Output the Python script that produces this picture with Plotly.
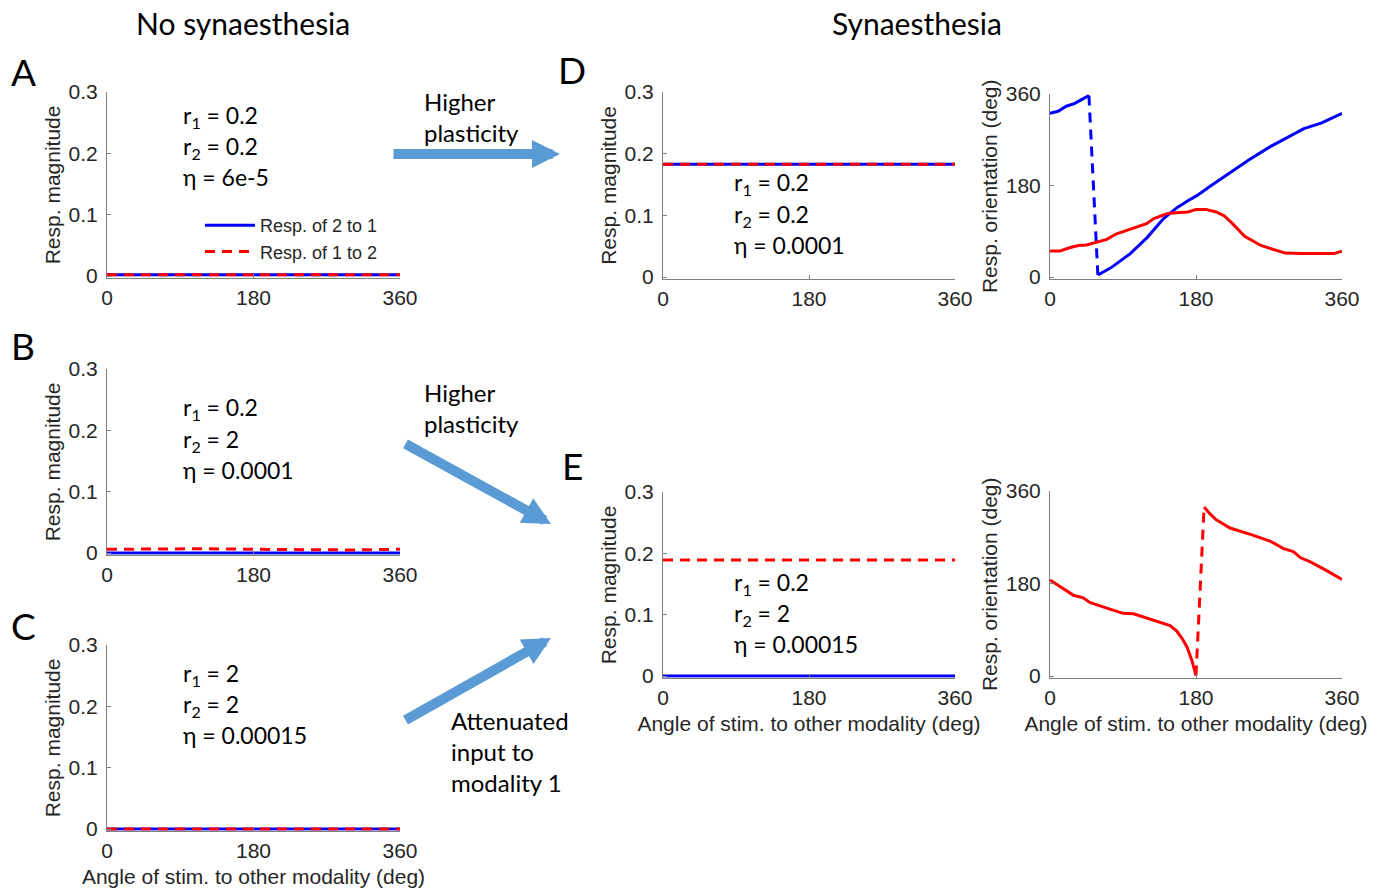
import plotly.graph_objects as go

# page body has an 8px margin: the figure is sized so that it ends at the window edge
OFF = 8
W, H = 1387 - OFF, 892 - OFF

# ---------------- data ----------------
angle = [0, 60, 120, 180, 240, 300, 360]

a_resp_2to1 = [0.002, 0.002, 0.002, 0.002, 0.002, 0.002, 0.002]
a_resp_1to2 = [0.002, 0.002, 0.002, 0.002, 0.002, 0.002, 0.002]
b_resp_2to1 = [0.0, 0.0, 0.0, 0.0, 0.0, 0.0, 0.0]
b_resp_1to2 = [0.006, 0.007, 0.007, 0.006, 0.005, 0.005, 0.006]
c_resp_2to1 = [0.0, 0.0, 0.0, 0.0, 0.0, 0.0, 0.0]
c_resp_1to2 = [0.0, 0.0, 0.0, 0.0, 0.0, 0.0, 0.0]
d_resp_2to1 = [0.183, 0.183, 0.183, 0.183, 0.183, 0.183, 0.183]
d_resp_1to2 = [0.183, 0.183, 0.183, 0.183, 0.183, 0.183, 0.183]
e_resp_2to1 = [0.0, 0.0, 0.0, 0.0, 0.0, 0.0, 0.0]
e_resp_1to2 = [0.189, 0.189, 0.189, 0.189, 0.189, 0.189, 0.189]

# D: response orientation
d_ori_2to1_x_a = [0, 10, 20, 30, 40, 48]
d_ori_2to1_y_a = [322, 326, 336, 341, 350, 357]
d_ori_2to1_x_b = [59, 75, 99, 120, 140, 157, 170, 181, 197, 220, 245, 271, 290, 313, 335, 350, 360]
d_ori_2to1_y_b = [4, 18, 46, 78, 115, 137, 150, 160, 178, 203, 230, 256, 272, 292, 303, 315, 322]
d_ori_1to2_x = [0, 12, 25, 35, 45, 60, 70, 82, 100, 119, 128, 145, 160, 170, 180, 192, 205, 215,
                225, 240, 260, 275, 290, 310, 350, 360]
d_ori_1to2_y = [51, 51, 58, 62, 63, 70, 74, 85, 95, 105, 115, 125, 127, 128, 133, 133, 128, 120,
                105, 80, 62, 55, 47, 46, 46, 51]

# E: response orientation
e_ori_1to2_x_a = [0, 15, 29, 41, 49, 70, 90, 103, 125, 148, 156, 163, 169, 175, 180]
e_ori_1to2_y_a = [187, 172, 157, 152, 143, 132, 122, 121, 110, 98, 88, 73, 56, 30, 1]
e_ori_1to2_x_b = [190, 197, 205, 222, 250, 272, 288, 300, 309, 321, 340, 360]
e_ori_1to2_y_b = [329, 316, 304, 288, 274, 262, 248, 242, 230, 222, 206, 188]

mag_ticks = [0, 0.1, 0.2, 0.3]
mag_ticktext = ["0", "0.1", "0.2", "0.3"]
ori_ticks = [0, 180, 360]
ang_ticks = [0, 180, 360]

BLUE = "rgb(0,0,255)"
RED = "rgb(255,0,0)"
ARROW = "#5b9bd5"
AXC = "#7f7f7f"
TXC = "#262626"
TICKFONT = dict(family="Liberation Sans, Arial", size=21, color=TXC)
TEXTFONT = "Lato"

fig = go.Figure()


def px(x):
    return (x - OFF) / W


def py(y):
    return 1 - (y - OFF) / H


def add_axes(i, x0, x1, y0, y1, top, pad, ytickvals, yticktext, ytitle, xtitle=None):
    # x0/x1: pixel of angle 0/360 ; y0/y1: pixel of value 0/top
    ppu = (y0 - y1) / top
    ybot = y0 + pad * ppu
    sfx = "" if i == 1 else str(i)
    xa = dict(domain=[px(x0), px(x1)], range=[0, 360], anchor="y" + sfx,
              tickvals=ang_ticks, ticktext=[str(v) for v in ang_ticks],
              showline=True, linecolor=AXC, linewidth=1, ticks="inside", ticklen=4,
              tickcolor=AXC, showgrid=False, zeroline=False, tickfont=TICKFONT,
              ticklabelstandoff=1, automargin=False)
    if xtitle:
        xa["title"] = dict(text=xtitle, font=TICKFONT, standoff=8)
    ya = dict(domain=[py(ybot), py(y1)], range=[-pad, top], anchor="x" + sfx,
              tickvals=ytickvals, ticktext=yticktext,
              showline=True, linecolor=AXC, linewidth=1, ticks="inside", ticklen=4,
              tickcolor=AXC, showgrid=False, zeroline=False, tickfont=TICKFONT,
              ticklabelstandoff=4, automargin=False,
              title=dict(text=ytitle, font=TICKFONT, standoff=2))
    fig.layout["xaxis" + sfx] = xa
    fig.layout["yaxis" + sfx] = ya
    return "x" + sfx, "y" + sfx


def mag_traces(xr, yr, blue, red, legend=False):
    fig.add_trace(go.Scatter(x=angle, y=blue, mode="lines", xaxis=xr, yaxis=yr,
                             line=dict(color=BLUE, width=3), name="Resp. of 2 to 1",
                             showlegend=legend))
    fig.add_trace(go.Scatter(x=angle, y=red, mode="lines", xaxis=xr, yaxis=yr,
                             line=dict(color=RED, width=3, dash="10px,7px"),
                             name="Resp. of 1 to 2", showlegend=legend))


XT = "Angle of stim. to other modality (deg)"
# A
xr, yr = add_axes(1, 107, 400, 276, 92, 0.3, 0.003, mag_ticks, mag_ticktext, "Resp. magnitude")
mag_traces(xr, yr, a_resp_2to1, a_resp_1to2, legend=True)
# B
xr, yr = add_axes(2, 107, 400, 553, 369, 0.3, 0.003, mag_ticks, mag_ticktext, "Resp. magnitude")
mag_traces(xr, yr, b_resp_2to1, b_resp_1to2)
# C
xr, yr = add_axes(3, 107, 400, 829, 645, 0.3, 0.003, mag_ticks, mag_ticktext, "Resp. magnitude", XT)
mag_traces(xr, yr, c_resp_2to1, c_resp_1to2)
# D left
xr, yr = add_axes(4, 663, 955, 277, 92, 0.3, 0.003, mag_ticks, mag_ticktext, "Resp. magnitude")
mag_traces(xr, yr, d_resp_2to1, d_resp_1to2)
# E left
xr, yr = add_axes(6, 663, 955, 676, 492, 0.3, 0.003, mag_ticks, mag_ticktext, "Resp. magnitude", XT)
mag_traces(xr, yr, e_resp_2to1, e_resp_1to2)

# D right (orientation)
xr, yr = add_axes(5, 1050, 1342, 277, 94, 360, 3, ori_ticks, [str(v) for v in ori_ticks],
                  "Resp. orientation (deg)")
fig.add_trace(go.Scatter(x=d_ori_2to1_x_a, y=d_ori_2to1_y_a, mode="lines", xaxis=xr, yaxis=yr,
                         line=dict(color=BLUE, width=3), showlegend=False))
fig.add_trace(go.Scatter(x=[d_ori_2to1_x_a[-1], d_ori_2to1_x_b[0]],
                         y=[d_ori_2to1_y_a[-1], d_ori_2to1_y_b[0]], mode="lines",
                         xaxis=xr, yaxis=yr, line=dict(color=BLUE, width=3, dash="10px,7px"),
                         showlegend=False))
fig.add_trace(go.Scatter(x=d_ori_2to1_x_b, y=d_ori_2to1_y_b, mode="lines", xaxis=xr, yaxis=yr,
                         line=dict(color=BLUE, width=3), showlegend=False))
fig.add_trace(go.Scatter(x=d_ori_1to2_x, y=d_ori_1to2_y, mode="lines", xaxis=xr, yaxis=yr,
                         line=dict(color=RED, width=3), showlegend=False))

# E right (orientation)
xr, yr = add_axes(7, 1050, 1342, 676, 491, 360, 3, ori_ticks, [str(v) for v in ori_ticks],
                  "Resp. orientation (deg)", XT)
fig.add_trace(go.Scatter(x=e_ori_1to2_x_a, y=e_ori_1to2_y_a, mode="lines", xaxis=xr, yaxis=yr,
                         line=dict(color=RED, width=3), showlegend=False))
fig.add_trace(go.Scatter(x=[e_ori_1to2_x_a[-1], e_ori_1to2_x_b[0]],
                         y=[e_ori_1to2_y_a[-1], e_ori_1to2_y_b[0]], mode="lines",
                         xaxis=xr, yaxis=yr, line=dict(color=RED, width=3, dash="10px,7px"),
                         showlegend=False))
fig.add_trace(go.Scatter(x=e_ori_1to2_x_b, y=e_ori_1to2_y_b, mode="lines", xaxis=xr, yaxis=yr,
                         line=dict(color=RED, width=3), showlegend=False))

# ---------------- annotations ----------------
ann = []


def text(x, y, s, size, xanchor="left", yanchor="middle", family=TEXTFONT, align="left"):
    ann.append(dict(x=px(x), y=py(y), xref="paper", yref="paper", text=s, showarrow=False,
                    xanchor=xanchor, yanchor=yanchor, align=align, borderpad=0,
                    font=dict(family=family, size=size, color="black")))


text(243, 23, "No synaesthesia", 30, xanchor="center")
text(917, 23, "Synaesthesia", 30, xanchor="center")

for lab, (x, y) in {"A": (23, 72), "B": (23, 345), "C": (23, 625),
                    "D": (572, 70), "E": (572, 465)}.items():
    text(x, y, lab, 37, xanchor="center")

params = [
    (182, 116, ["0.2", "0.2", "6e-5"]),
    (182, 409, ["0.2", "2", "0.0001"]),
    (182, 674, ["2", "2", "0.00015"]),
    (733, 184, ["0.2", "0.2", "0.0001"]),
    (733, 583, ["0.2", "2", "0.00015"]),
]
for x, y, (r1, r2, eta) in params:
    text(x, y, "r<sub>1</sub> = " + r1, 23)
    text(x, y + 31, "r<sub>2</sub> = " + r2, 23)
    text(x, y + 61, "\u03b7 = " + eta, 23)

text(423, 117, "Higher<br>plasticity", 24)
text(423, 408, "Higher<br>plasticity", 24)
text(450, 751, "Attenuated<br>input to<br>modality 1", 24)


def arrow(tipx, tipy, tailx, taily):
    ann.append(dict(x=px(tipx), y=py(tipy), xref="paper", yref="paper", text="",
                    showarrow=True, ax=tailx - tipx, ay=taily - tipy,
                    arrowhead=2, arrowsize=0.56, arrowwidth=10, arrowcolor=ARROW))


arrow(560, 154, 392, 154)
arrow(551, 524, 404, 443)
arrow(551, 638, 404, 721)

fig.update_layout(
    width=W, height=H, autosize=False,
    margin=dict(l=0, r=0, t=0, b=0, autoexpand=False),
    paper_bgcolor="white", plot_bgcolor="white",
    annotations=ann,
    showlegend=True,
    legend=dict(x=px(200), y=py(207), xanchor="left", yanchor="top",
                bgcolor="rgba(0,0,0,0)", borderwidth=0, itemwidth=50,
                font=dict(family="Liberation Sans, Arial", size=18, color=TXC),
                tracegroupgap=0),
)

fig.write_html("out.html")
